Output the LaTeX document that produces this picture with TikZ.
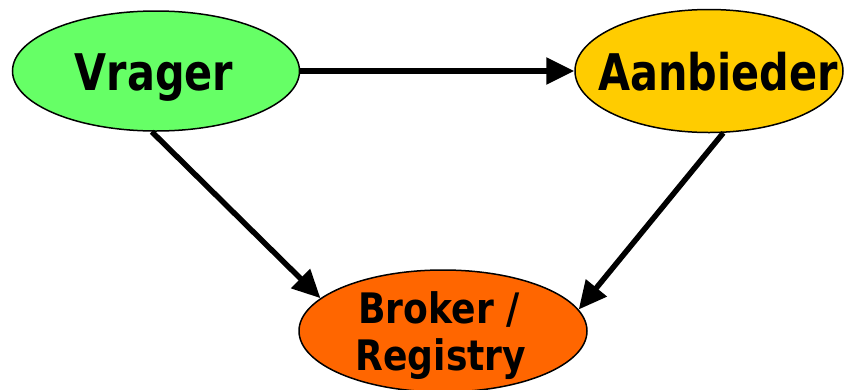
\documentclass[tikz,border=0pt]{standalone}
\usepackage{fontspec}
\setmainfont{DejaVu Sans}[FakeStretch=0.82]
\newfontfamily\midfont{DejaVu Sans}[FakeStretch=0.86]
\usetikzlibrary{shapes.geometric,arrows.meta}
\definecolor{cgreen}{HTML}{66FF66}
\definecolor{cyellow}{HTML}{FFCC00}
\definecolor{corange}{HTML}{FF6600}
\tikzset{
  ell/.style={draw=black, line width=1.5pt, ellipse, inner sep=0pt},
  big/.style={font=\fontsize{50.5}{60}\selectfont\bfseries, anchor=base, inner sep=0pt},
  mid/.style={font=\midfont\fontsize{42}{47}\selectfont\bfseries, anchor=base, inner sep=0pt},
  conn/.style={line width=5.5pt, -{Triangle[length=28pt,width=26pt]}}
}
\begin{document}
\begin{tikzpicture}[x=1pt,y=1pt]
\useasboundingbox (0,0) rectangle (854,-389);
\node[ell, fill=cgreen, minimum width=287pt, minimum height=120pt] (v) at (156,-71) {};
\node[ell, fill=cyellow, minimum width=268pt, minimum height=123pt] (a) at (709,-71) {};
\node[ell, fill=corange, minimum width=288pt, minimum height=122pt] (b) at (443,-331) {};
\node[big] (vt) at (154,-90) {Vrager};
\node[big] (at) at (718,-90) {Aanbieder};
\node[mid] (bt1) at (439,-323) {Broker /};
\node[mid] (bt2) at (441,-370) {Registry};
\draw[conn] (v.east) -- (a.west);
\draw[conn] (v.-94) -- (b.165);
\draw[conn] (a.-77) -- (b.9.5);
\end{tikzpicture}
\end{document}
